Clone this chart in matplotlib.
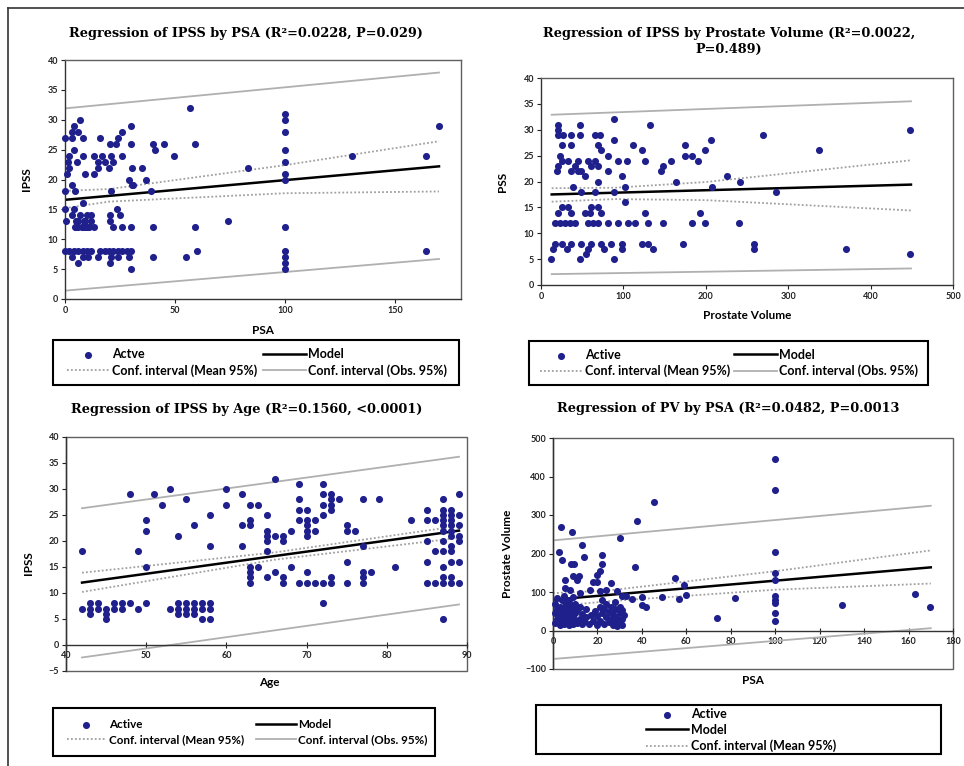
import numpy as np
import matplotlib
matplotlib.use("Agg")
import matplotlib.pyplot as plt
from matplotlib.patches import Rectangle
from matplotlib.lines import Line2D

plt.rcParams['font.family'] = ['Lato', 'DejaVu Sans']
plt.rcParams['font.weight'] = 'bold'

W, H = 964, 766

# ---------------- data ----------------
# panel A: IPSS by PSA  (psa, ipss)
pts_a = [(57, 32), (100, 31), (7, 30), (100, 30), (4, 29), (30, 29), (170, 29),
         (3, 28), (6, 28), (26, 28), (100, 28), (0, 27), (3, 27), (8, 27), (16, 27), (24, 27),
         (20.5, 26), (23, 26), (30, 26), (40, 26), (45, 26), (59, 26), (4, 25), (41, 25), (100, 25),
         (2, 24), (8.4, 24), (13, 24), (16.7, 24), (21, 24), (26, 24), (49.5, 24), (130.5, 24), (164, 24),
         (1.5, 23), (5.3, 23), (15, 23), (18, 23), (22, 23), (100, 23),
         (2, 22), (15, 22), (20, 22), (30.4, 22), (35, 22), (83, 22),
         (1, 21), (9, 21), (13, 21), (100, 21), (29, 20), (37, 20), (100, 20),
         (3, 19), (30.4, 19), (31, 19), (0, 18), (4.6, 18), (21, 18), (39, 18),
         (8, 16), (0, 15), (4, 15), (23.6, 15),
         (3, 14), (7, 14), (10, 14), (12, 14), (20.5, 14), (25, 14),
         (0.5, 13), (5, 13), (6, 13), (8.5, 13), (9, 13), (12, 13), (20.5, 13), (74, 13),
         (4.6, 12), (5, 12), (6, 12), (7.6, 12), (8, 12), (9, 12), (10, 12), (11, 12), (13, 12),
         (22, 12), (26, 12), (30, 12), (40, 12), (59, 12), (100, 12),
         (0, 8), (2, 8), (4, 8), (6, 8), (8, 8), (10, 8), (12, 8), (16, 8), (18, 8), (20, 8),
         (22, 8), (24, 8), (26, 8), (28, 8), (30, 8), (60, 8), (100, 8), (164, 8),
         (3, 7), (8.4, 7), (10.6, 7), (15, 7), (21, 7), (24, 7), (29, 7), (40, 7), (55, 7), (100, 7),
         (6, 6), (20.5, 6), (100, 6), (30, 5), (100, 5)]
model_a_x = [0, 170]
model_a_y = [16.6, 22.2]
mean_a_x = [0, 20, 100, 170]
mean_a_hi = [18.1, 18.4, 22.4, 26.4]
mean_a_lo = [15.2, 16.3, 17.7, 18.0]
obs_a_x = [0, 170]
obs_a_hi = [31.9, 37.9]
obs_a_lo = [1.4, 6.7]

# panel B: IPSS by prostate volume  (pv, ipss)
pts_b = [(89, 32), (21, 31), (47, 31), (132, 31), (21, 30), (448, 30),
         (21, 29), (27, 29), (37, 29), (47, 29), (65, 29), (71, 29), (270, 29),
         (89, 28), (206, 28), (25, 27), (37, 27), (69, 27), (112, 27), (175, 27),
         (73, 26), (122, 26), (199, 26), (337, 26), (23, 25), (81, 25), (183, 25), (175, 25),
         (25, 24), (33, 24), (45, 24), (57, 24), (65, 24), (94, 24), (104, 24), (126, 24), (158, 24), (191, 24),
         (21, 23), (41, 23), (61, 23), (69, 23), (148, 23),
         (19, 22), (37, 22), (45, 22), (49, 22), (81, 22), (146, 22),
         (53, 21), (98, 21), (226, 21), (69, 20), (164, 20), (242, 20),
         (39, 19), (102, 19), (207, 19), (49, 18), (65, 18), (89, 18), (285, 18),
         (102, 16), (25, 15), (33, 15), (61, 15), (69, 15),
         (21, 14), (37, 14), (53, 14), (59, 14), (73, 14), (126, 14), (193, 14),
         (17, 12), (23, 12), (29, 12), (35, 12), (41, 12), (57, 12), (63, 12), (69, 12), (81, 12),
         (94, 12), (106, 12), (114, 12), (130, 12), (148, 12), (183, 12), (199, 12), (240, 12),
         (17, 8), (25, 8), (37, 8), (49, 8), (61, 8), (73, 8), (85, 8), (98, 8), (122, 8), (130, 8),
         (172, 8), (258, 8), (15, 7), (31, 7), (57, 7), (77, 7), (98, 7), (136, 7), (258, 7), (370, 7),
         (448, 6), (55, 6), (12.5, 5), (47, 5), (89, 5)]
model_b_x = [13, 449]
model_b_y = [17.5, 19.4]
mean_b_x = [13, 90, 200, 449]
mean_b_hi = [18.7, 18.8, 19.9, 24.1]
mean_b_lo = [16.1, 16.6, 16.4, 14.4]
obs_b_x = [13, 449]
obs_b_hi = [32.9, 35.5]
obs_b_lo = [2.1, 3.2]

# panel C: IPSS by age  (age, ipss)
pts_c = [(42, 18), (42, 7), (43, 8), (43, 7), (43, 6), (44, 8), (44, 7), (45, 7), (45, 6), (45, 5),
         (46, 8), (46, 7), (47, 8), (47, 7), (48, 8), (49, 7), (50, 8),
         (48, 29), (49, 18), (50, 24), (50, 22), (50, 15), (51, 29), (52, 27), (53, 30), (54, 21), (55, 28),
         (53, 7), (54, 8), (54, 7), (54, 6), (55, 8), (55, 7), (55, 6), (56, 8), (56, 7), (56, 6),
         (57, 8), (57, 7), (57, 5), (58, 8), (58, 7), (58, 5),
         (56, 23), (58, 25), (58, 19), (60, 30), (60, 27), (62, 29), (62, 23), (62, 19),
         (63, 27), (64, 27), (63, 24), (63, 23), (63, 15), (63, 14), (63, 13), (63, 12), (64, 15),
         (65, 25), (65, 22), (65, 21), (65, 20), (65, 18), (65, 13),
         (66, 32), (66, 21), (67, 21), (67, 20), (66, 14), (67, 13), (67, 12), (68, 22), (68, 15),
         (69, 31), (69, 28), (69, 26), (69, 24), (69, 12), (70, 26), (70, 24), (70, 23), (70, 22), (70, 21),
         (70, 14), (70, 12), (71, 24), (71, 22), (71, 12), (72, 12), (72, 8), (72, 31), (72, 29), (72, 25),
         (72, 27), (73, 29), (73, 28), (73, 27), (73, 26), (73, 13), (73, 12), (74, 28),
         (75, 23), (75, 22), (75, 16), (75, 12), (76, 22), (77, 28), (77, 19), (77, 14), (77, 13), (77, 12),
         (78, 14), (79, 28), (81, 15), (83, 24),
         (85, 26), (85, 24), (85, 20), (85, 16), (85, 12), (86, 24), (86, 18), (86, 12),
         (87, 28), (87, 26), (87, 25), (87, 24), (87, 23), (87, 22), (87, 20), (87, 18), (87, 15),
         (87, 13), (87, 12), (87, 5),
         (88, 26), (88, 25), (88, 24), (88, 23), (88, 22), (88, 21), (88, 19), (88, 18), (88, 16),
         (88, 13), (88, 12), (89, 29), (89, 25), (89, 23), (89, 21), (89, 20), (89, 16), (89, 12)]
model_c_x = [42, 89]
model_c_y = [12.0, 22.0]
mean_c_x = [42, 66, 89]
mean_c_hi = [13.9, 17.8, 22.9]
mean_c_lo = [10.2, 16.4, 20.6]
obs_c_x = [42, 89]
obs_c_hi = [26.3, 36.2]
obs_c_lo = [-2.4, 7.8]

# panel D: prostate volume by PSA  (psa, pv)
pts_d = [(100, 446), (100, 366), (100, 204), (100, 150), (100, 132), (100, 89), (100, 80),
         (100, 72), (100, 46), (100, 24),
         (45.6, 333), (38, 284), (36.8, 164), (30, 240), (3.4, 269), (8.7, 256), (13.2, 223),
         (14, 192), (2.9, 204), (4, 183), (8, 172), (9.5, 173), (22, 195), (22, 172), (21, 154),
         (20, 144), (11.5, 141), (55, 137), (59, 117), (60, 93), (56.6, 83), (49, 87), (35.6, 81),
         (40, 86), (40, 66), (42, 62), (33, 89), (31, 89), (73.6, 32), (82, 84), (130, 65),
         (163, 96), (169.5, 62),
         (5.4, 132), (9, 141), (10.6, 132), (5.4, 110), (7.6, 106), (12, 98), (16.6, 106),
         (18, 126), (19.6, 126), (21, 102), (24, 106), (26, 123), (28.6, 102),
         (1, 20), (1, 45), (1, 70), (2, 30), (2, 55), (2, 85), (3, 15), (3, 40), (3, 62),
         (4, 25), (4, 50), (4, 78), (5, 18), (5, 35), (5, 60), (5, 90), (6, 28), (6, 45), (6, 70),
         (7, 15), (7, 38), (7, 55), (7, 80), (8, 25), (8, 48), (8, 65), (9, 18), (9, 35), (9, 58),
         (9, 88), (10, 28), (10, 45), (10, 70), (11, 20), (11, 52), (12, 30), (12, 62), (13, 18),
         (13, 42), (14, 25), (15, 35), (15, 55), (16, 18), (17, 40), (18, 25), (19, 50), (20, 15),
         (20, 38), (21, 60), (21, 25), (22, 45), (22, 80), (23, 18), (23, 55), (24, 35), (24, 68),
         (25, 22), (25, 48), (26, 30), (26, 60), (27, 15), (27, 42), (28, 25), (28, 55), (28, 75),
         (29, 35), (29, 12), (30, 22), (30, 48), (30, 62), (31, 30), (31, 15), (31, 52), (32, 40)]
model_d_x = [0, 170]
model_d_y = [80, 164]
mean_d_x = [0, 25, 100, 170]
mean_d_hi = [97, 104, 154, 208]
mean_d_lo = [63, 76, 106, 122]
obs_d_x = [0, 170]
obs_d_hi = [234, 324]
obs_d_lo = [-74, 6]

DOT = '#20208c'
OBS = '#b0b0b0'
MEAN = '#a0a0a0'


def fig_rect(l, t, r, b):
    return [l / W, 1 - b / H, (r - l) / W, (b - t) / H]


def draw_panel(ax, pts, mx, my, cx, chi, clo, ox, ohi, olo):
    x, y = np.array(pts, dtype=float).T
    ox_l, = ax.plot(ox, ohi, color=OBS, lw=1.3, zorder=2)
    ax.plot(ox, olo, color=OBS, lw=1.3, zorder=2)
    mean_l, = ax.plot(cx, chi, color=MEAN, lw=1.3, ls=(0, (1, 1.2)), zorder=2)
    ax.plot(cx, clo, color=MEAN, lw=1.3, ls=(0, (1, 1.2)), zorder=2)
    mod_l, = ax.plot(mx, my, color='black', lw=1.8, zorder=2.5)
    sc = ax.scatter(x, y, s=26, color=DOT, linewidths=0, zorder=3, clip_on=False)
    ax.tick_params(labelsize=6.5, length=3, width=0.8, pad=2, colors='#222222')
    for s in ax.spines.values():
        s.set_color('#606060')
        s.set_linewidth(1.0)
    ax.spines['left'].set_color('#333333')
    ax.spines['bottom'].set_color('#333333')
    return sc, mod_l, mean_l, ox_l


def legend_box(l, t, r, b):
    fig.add_artist(Rectangle((l / W, 1 - b / H), (r - l) / W, (b - t) / H,
                             transform=fig.transFigure, fill=False, ec='black', lw=1.5))


fig = plt.figure(figsize=(W / 100, H / 100), dpi=100)

# outer frame
fig.add_artist(Line2D([8 / W, 1], [1 - 8 / H, 1 - 8 / H], transform=fig.transFigure, color='#333333', lw=1.2))
fig.add_artist(Line2D([8 / W, 8 / W], [1 - 8 / H, 0], transform=fig.transFigure, color='#333333', lw=1.2))

title_kw = dict(family='DejaVu Serif', weight='bold', fontsize=9.3, ha='center', va='center')
lab_kw = dict(fontsize=8.5, weight='bold')
leg_kw = dict(frameon=False, handlelength=3.4, handletextpad=0.2,
              labelspacing=0.3, borderaxespad=0, scatterpoints=1)

# ---- A ----
axA = fig.add_axes(fig_rect(65, 60, 461, 299))
hA = draw_panel(axA, pts_a, model_a_x, model_a_y, mean_a_x, mean_a_hi, mean_a_lo, obs_a_x, obs_a_hi, obs_a_lo)
axA.set_xlim(0, 180)
axA.set_ylim(0, 40)
axA.set_xticks([0, 50, 100, 150])
axA.set_yticks(range(0, 41, 5))
axA.set_xlabel('PSA', **lab_kw)
axA.set_ylabel('IPSS', **lab_kw)
axA.xaxis.set_label_coords(0.5, -0.11)
axA.yaxis.set_label_coords(-0.083, 0.5)
fig.text(246 / W, 1 - 33 / H, 'Regression of IPSS by PSA (R²=0.0228, P=0.029)', **title_kw)
legend_box(53, 340, 459, 385)
fig.legend([hA[0], hA[2], hA[1], hA[3]],
           ['Actve', 'Conf. interval (Mean 95%)', 'Model', 'Conf. interval (Obs. 95%)'],
           ncol=2, loc='center', mode='expand', fontsize=9,
           bbox_to_anchor=(62 / W, 1 - 385 / H, 390 / W, 45 / H), **leg_kw)

# ---- B ----
axB = fig.add_axes(fig_rect(541, 78, 953, 285))
hB = draw_panel(axB, pts_b, model_b_x, model_b_y, mean_b_x, mean_b_hi, mean_b_lo, obs_b_x, obs_b_hi, obs_b_lo)
axB.set_xlim(0, 500)
axB.set_ylim(0, 40)
axB.set_xticks(range(0, 501, 100))
axB.set_yticks(range(0, 41, 5))
axB.set_xlabel('Prostate Volume', **lab_kw)
axB.set_ylabel('PSS', **lab_kw)
axB.xaxis.set_label_coords(0.5, -0.12)
axB.yaxis.set_label_coords(-0.08, 0.5)
fig.text(729 / W, 1 - 41 / H, 'Regression of IPSS by Prostate Volume (R²=0.0022,\nP=0.489)',
         linespacing=1.3, **title_kw)
legend_box(529, 341, 928, 385)
fig.legend([hB[0], hB[2], hB[1], hB[3]],
           ['Active', 'Conf. interval (Mean 95%)', 'Model', 'Conf. interval (Obs. 95%)'],
           ncol=2, loc='center', mode='expand', fontsize=9,
           bbox_to_anchor=(535 / W, 1 - 385 / H, 388 / W, 44 / H), **leg_kw)

# ---- C ----
axC = fig.add_axes(fig_rect(66, 437, 467, 671))
hC = draw_panel(axC, pts_c, model_c_x, model_c_y, mean_c_x, mean_c_hi, mean_c_lo, obs_c_x, obs_c_hi, obs_c_lo)
axC.set_xlim(40, 90)
axC.set_ylim(-5, 40)
axC.set_xticks(range(40, 91, 10))
axC.set_yticks(range(-5, 41, 5))
axC.set_xlabel('Age', **lab_kw)
axC.set_ylabel('IPSS', **lab_kw)
axC.xaxis.set_label_coords(0.506, -0.025)
axC.yaxis.set_label_coords(-0.08, 0.46)
fig.text(247 / W, 1 - 410 / H, 'Regression of IPSS by Age (R²=0.1560, <0.0001)', **title_kw)
legend_box(53, 708, 435, 756)
fig.legend([hC[0], hC[2], hC[1], hC[3]],
           ['Active', 'Conf. interval (Mean 95%)', 'Model', 'Conf. interval (Obs. 95%)'],
           ncol=2, loc='center', mode='expand', fontsize=8.4,
           bbox_to_anchor=(62 / W, 1 - 756 / H, 370 / W, 48 / H), **leg_kw)

# ---- D ----
axD = fig.add_axes(fig_rect(553, 438, 953, 669))
hD = draw_panel(axD, pts_d, model_d_x, model_d_y, mean_d_x, mean_d_hi, mean_d_lo, obs_d_x, obs_d_hi, obs_d_lo)
axD.set_xlim(0, 180)
axD.set_ylim(-100, 500)
axD.set_xticks(range(0, 181, 20))
axD.set_yticks(range(-100, 501, 100))
axD.set_xlabel('PSA', **lab_kw)
axD.set_ylabel('Prostate Volume', **lab_kw)
axD.xaxis.set_label_coords(0.5, -0.025)
axD.yaxis.set_label_coords(-0.1, 0.5)
fig.text(728 / W, 1 - 409 / H, 'Regression of PV by PSA (R²=0.0482, P=0.0013', **title_kw)
legend_box(536, 705, 941, 754)
fig.legend([hD[0], hD[1], hD[2]], ['Active', 'Model', 'Conf. interval (Mean 95%)'],
           ncol=1, loc='center', fontsize=9, bbox_to_anchor=(741 / W, 1 - 730 / H), **leg_kw)

# x axis crosses at zero for the two lower panels, plot area keeps its box
for ax in (axC, axD):
    ax.spines['bottom'].set_position(('data', 0))
    ax.spines['top'].set_visible(False)
    ax.spines['right'].set_visible(False)
    ax.add_patch(Rectangle((0, 0), 1, 1, transform=ax.transAxes, fill=False,
                           ec='#606060', lw=1.0, clip_on=False, zorder=1))
    ax.tick_params(axis='x', direction='inout', length=5)

fig.savefig('out.png', dpi=100)
